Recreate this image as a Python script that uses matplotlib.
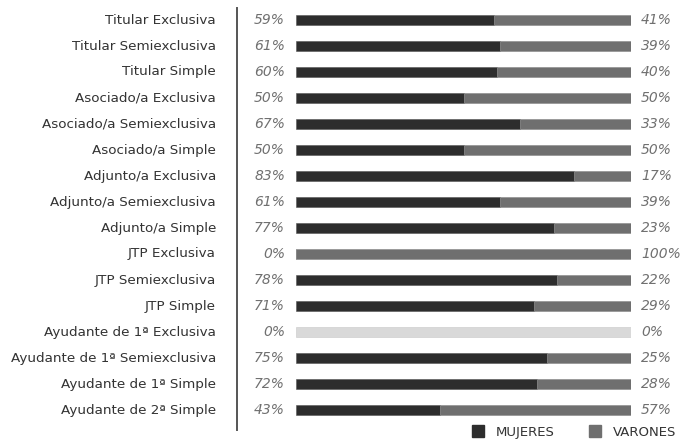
import matplotlib
matplotlib.use("Agg")
import matplotlib.pyplot as plt
from matplotlib.patches import Patch

categorias = [
    "Titular Exclusiva", "Titular Semiexclusiva", "Titular Simple",
    "Asociado/a Exclusiva", "Asociado/a Semiexclusiva", "Asociado/a Simple",
    "Adjunto/a Exclusiva", "Adjunto/a Semiexclusiva", "Adjunto/a Simple",
    "JTP Exclusiva", "JTP Semiexclusiva", "JTP Simple",
    "Ayudante de 1ª Exclusiva", "Ayudante de 1ª Semiexclusiva",
    "Ayudante de 1ª Simple", "Ayudante de 2ª Simple",
]
mujeres = [59, 61, 60, 50, 67, 50, 83, 61, 77, 0, 78, 71, 0, 75, 72, 43]
varones = [41, 39, 40, 50, 33, 50, 17, 39, 23, 100, 22, 29, 0, 25, 28, 57]

c_muj = "#2d2d2d"
c_var = "#6f6f6f"
c_vacio = "#d9d9d9"
c_txt = "#333333"
c_pct = "#707070"

fig = plt.figure(figsize=(6.85, 4.44), dpi=100, facecolor="white")
ax = fig.add_axes([296 / 685, 1 - 423 / 444, 335 / 685, 416 / 444])
ax.set_xlim(0, 100)
ax.set_ylim(len(categorias) - 0.5, -0.5)
ax.axis("off")

h = 10 / 26
for i, (cat, m, v) in enumerate(zip(categorias, mujeres, varones)):
    if m + v == 0:
        ax.barh(i, 100, height=h, color=c_vacio, edgecolor="#c8c8c8", lw=0.4)
    else:
        ax.barh(i, m, height=h, color=c_muj, edgecolor="#555555", lw=0.4)
        ax.barh(i, v, left=m, height=h, color=c_var, edgecolor="#888888", lw=0.4)
    ax.text(-23.9, i, cat, ha="right", va="center", fontsize=9.7, color=c_txt)
    ax.text(-3.3, i, f"{m}%", ha="right", va="center", fontsize=10,
            color=c_pct, style="italic")
    ax.text(103, i, f"{v}%", ha="left", va="center", fontsize=10,
            color=c_pct, style="italic")

ax.plot([-17.6, -17.6], [-0.46, 15.77], color="#555555", lw=1.4, clip_on=False)

handles = [Patch(facecolor=c_muj, edgecolor=c_muj, label="MUJERES"),
           Patch(facecolor=c_var, edgecolor=c_var, label="VARONES")]
fig.legend(handles=handles, loc="lower right", bbox_to_anchor=(1.005, -0.015),
           ncol=2, frameon=False, fontsize=9.5, handlelength=0.9, handleheight=1.0,
           columnspacing=2.6, handletextpad=0.9, labelcolor=c_txt)

fig.savefig("out.png", dpi=100, facecolor="white")
